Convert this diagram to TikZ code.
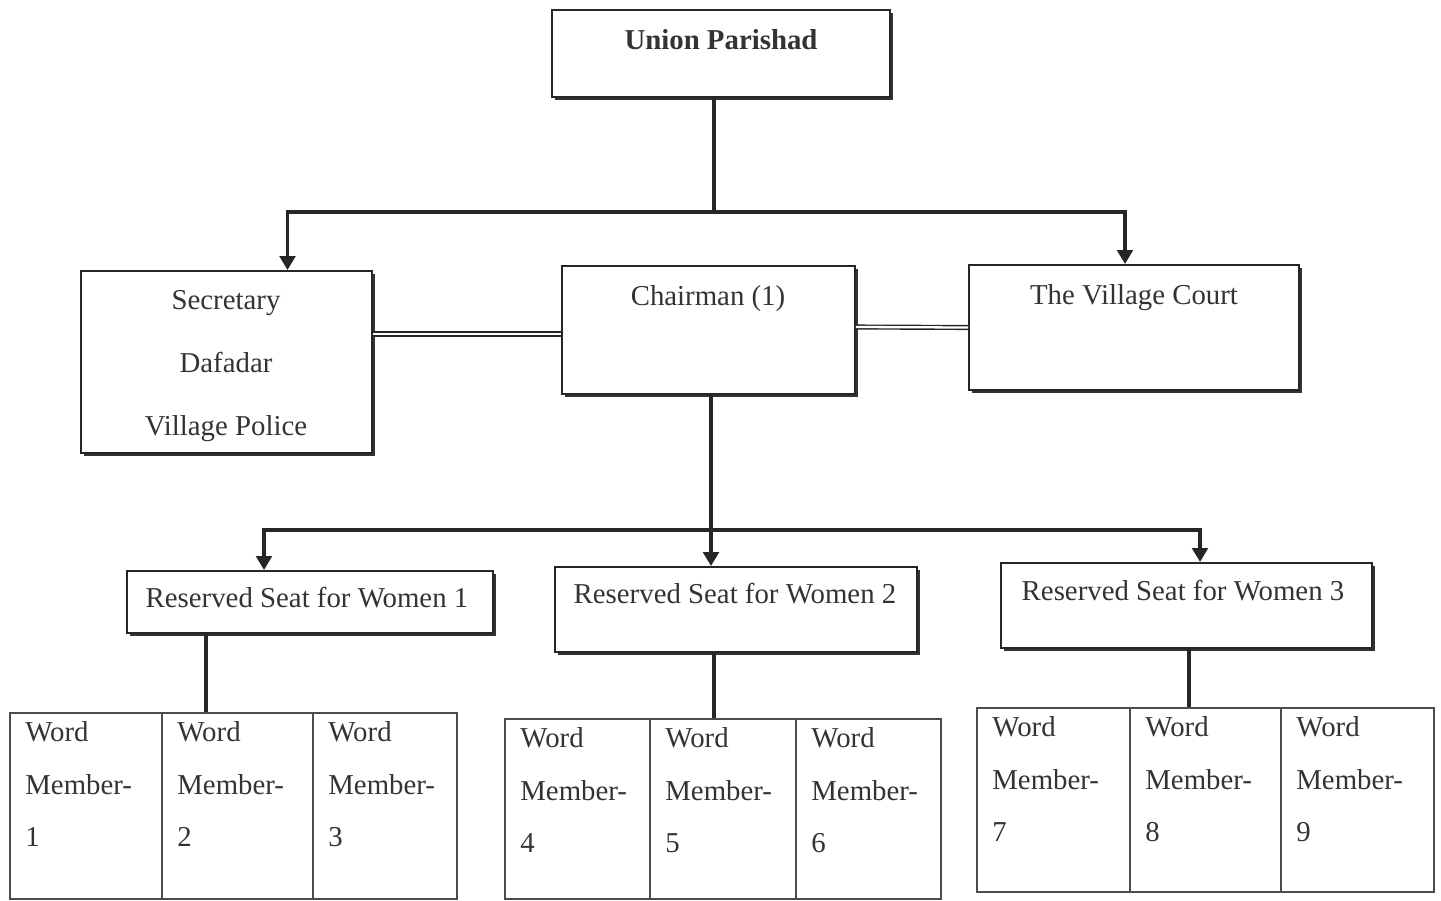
\documentclass[tikz,border=0pt]{standalone}
\usepackage{fontspec}
\setmainfont{Liberation Serif}
\usepackage{tikz}
\usetikzlibrary{arrows.meta,shadows,calc}
\usepackage{xcolor}

\begin{document}
\begin{tikzpicture}[x=0.02cm,y=-0.02cm,>={Triangle[length=2.8mm,width=3.1mm]},
  font=\fontsize{16.4}{19}\selectfont,line cap=butt,
  box/.style={draw=black!85,line width=1.1pt,fill=white,inner sep=0pt,
    drop shadow={shadow xshift=1.8pt,shadow yshift=-1.8pt,fill=black!80,opacity=1}},
  lbl/.style={anchor=base,inner sep=0pt,text=black!80},
  tree/.style={draw=black!85,line width=2.1pt},
  sidelink/.style={draw=black!85,double=white,double distance=1.3pt,line width=0.8pt},
  stem/.style={draw=black!85,line width=2.8pt},
  cell/.style={draw=black!70,line width=0.6pt,inner sep=0pt},
  memtext/.style={anchor=north west,inner sep=0pt,align=left,text=black!80,
    font=\fontsize{16.4}{30}\selectfont}]
\useasboundingbox (0,0) rectangle (1441,900);
% boxes
\node[box,minimum width=6.76cm,minimum height=1.74cm] (up) at (721,53.5) {};
\node[box,minimum width=5.82cm,minimum height=3.64cm] (sec) at (226.5,362) {};
\node[box,minimum width=5.86cm,minimum height=2.56cm] (chair) at (708.5,330) {};
\node[box,minimum width=6.60cm,minimum height=2.50cm] (court) at (1134,327.5) {};
\node[box,minimum width=7.32cm,minimum height=1.24cm] (rsw1) at (310,602) {};
\node[box,minimum width=7.24cm,minimum height=1.70cm] (rsw2) at (736,609.5) {};
\node[box,minimum width=7.42cm,minimum height=1.70cm] (rsw3) at (1186.5,605.5) {};
% box texts
\node[lbl,font=\fontsize{16.4}{19}\selectfont\bfseries] (uptxt) at (721,49) {Union Parishad};
\node[lbl] (sectxt) at (226,309) {Secretary};
\node[lbl] (daftxt) at (226,372) {Dafadar};
\node[lbl] (poltxt) at (226,435) {Village Police};
\node[lbl] (chairtxt) at (708,305) {Chairman (1)};
\node[lbl] (courttxt) at (1134,304) {The Village Court};
\node[lbl] (rsw1txt) at (307,607) {Reserved Seat for Women 1};
\node[lbl] (rsw2txt) at (735,603) {Reserved Seat for Women 2};
\node[lbl] (rsw3txt) at (1183,600) {Reserved Seat for Women 3};
% member tables
\foreach \l/\r/\t/\b/\k in {10/162/713/899/1,162/313/713/899/2,313/457/713/899/3,
    505/650/719/899/4,650/796/719/899/5,796/941/719/899/6,
    977/1130/708/892/7,1130/1281/708/892/8,1281/1434/708/892/9}{
  \node[cell,minimum width={(\r-\l)*0.02cm},minimum height={(\b-\t)*0.02cm}]
    (cell\k) at ({(\l+\r)/2},{(\t+\b)/2}) {};
  \node[memtext] (mem\k) at (\l+15,\t+8) {Word\\Member-\\\k};
}
% connectors
\coordinate (upjoin) at (714,212);
\draw[tree] ($(up.south)+(-7,0)$) -- (upjoin);
\draw[tree,->] (upjoin) -| ($(sec.north)+(61,0)$);
\draw[tree,->] (upjoin) -| ($(court.north)+(-9,0)$);
\draw[sidelink] ($(sec.east)+(0,-28)$) -- ($(chair.west)+(0,4)$);
\draw[sidelink] ($(chair.east)+(0,-3)$) -- (court.west);
\coordinate (chjoin) at (711,530);
\draw[tree] ($(chair.south)+(2.5,0)$) -- (chjoin);
\draw[tree,->] (chjoin) -- (chjoin |- rsw2.north);
\draw[tree,->] (chjoin) -| ($(rsw1.north)+(-46,0)$);
\draw[tree,->] (chjoin) -| ($(rsw3.north)+(13.5,0)$);
\draw[stem] ($(rsw1.south)+(-104,0)$) coordinate (s1) -- (s1 |- cell2.north);
\draw[stem] ($(rsw2.south)+(-22,0)$) coordinate (s2) -- (s2 |- cell5.north);
\draw[stem] ($(rsw3.south)+(2.5,0)$) coordinate (s3) -- (s3 |- cell8.north);
\end{tikzpicture}
\end{document}
